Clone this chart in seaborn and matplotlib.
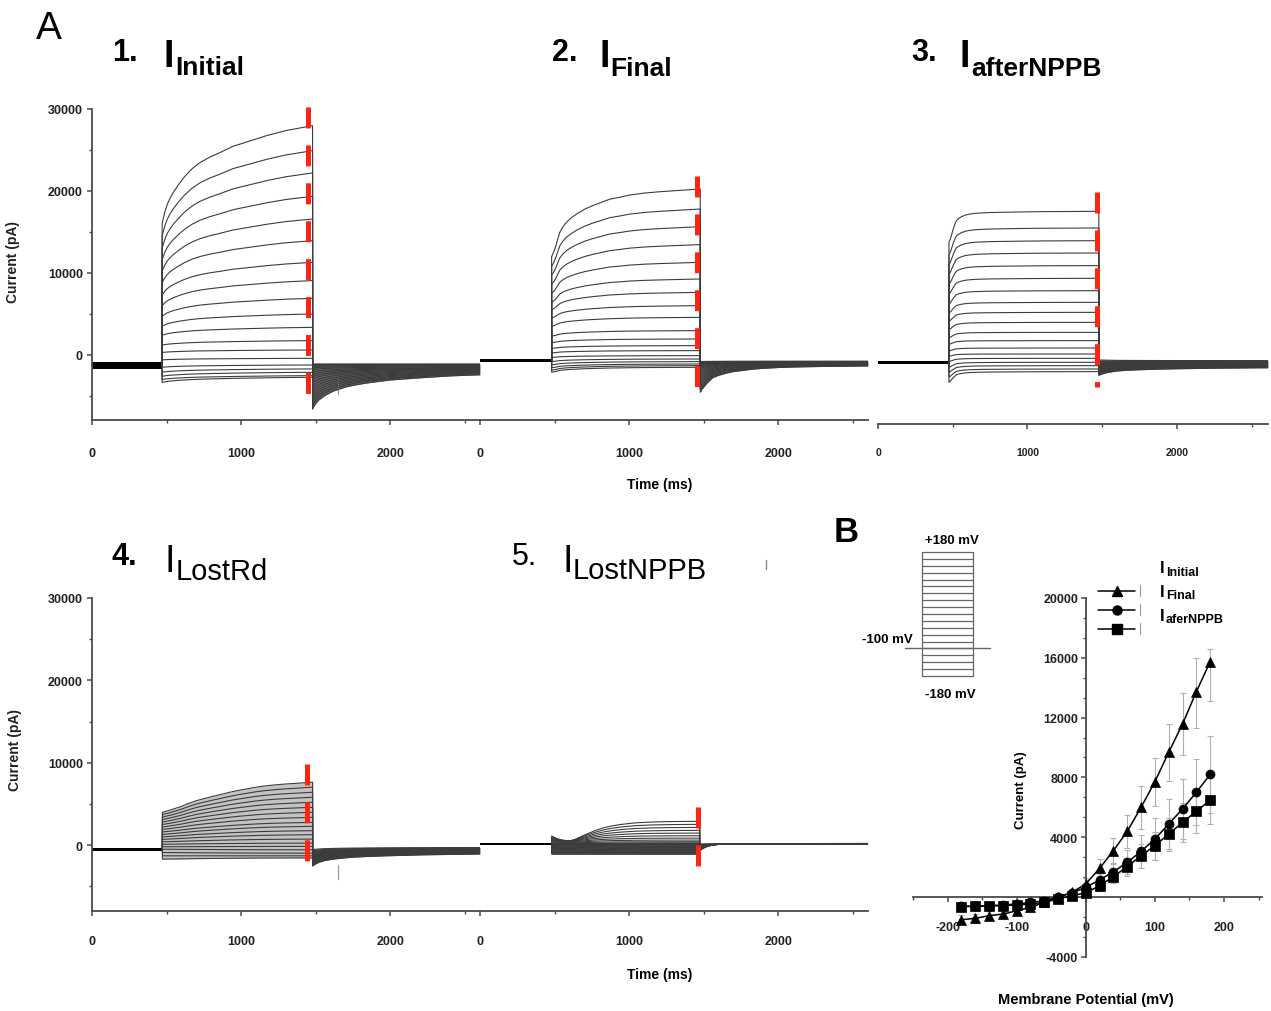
import numpy as np
import pandas as pd
import matplotlib
matplotlib.use("Agg")
import matplotlib.pyplot as plt
import matplotlib.transforms as mtransforms
from matplotlib.ticker import MultipleLocator
import seaborn as sns

# ---------------------------------------------------------------- data
# sweep order for every trace list: +180 mV (top trace) ... -180 mV (bottom)
sweep_mv = [180, 160, 140, 120, 100, 80, 60, 40, 20, 0,
            -20, -40, -60, -80, -100, -120, -140, -160, -180]

# ---- panel 1  I_Initial
p1_pulse = [470, 1478]
p1_hold = [-900, -1650]
p1_onset = [16000, 14500, 13000, 11600, 10200, 8800, 7300, 6000, 4700, 3500,
            2400, 1200, 300, -600, -1500, -2100, -2600, -3000, -3350]
p1_end = [27970, 24920, 22200, 19350, 16590, 13940, 11300, 9070, 6910, 5000,
          3370, 1750, 610, -410, -1220, -1700, -2110, -2520, -2720]
p1_prof_t = [470, 480, 490, 505, 523, 545, 580, 620, 670, 725, 790, 850, 946,
             1050, 1174, 1300, 1478]
p1_prof_f = [0, 0.07, 0.13, 0.2, 0.26, 0.32, 0.4, 0.48, 0.56, 0.625, 0.68, 0.72,
             0.79, 0.84, 0.9, 0.95, 1.0]
p1_tail_peak = [-6600, -6200, -5800, -5400, -5000, -4600, -4200, -3800, -3400, -3000,
                -2700, -2400, -2100, -1800, -1600, -1400, -1250, -1150, -1100]
p1_tail_end = [-2100, -2000, -1950, -1900, -1850, -1800, -1750, -1700, -1650, -1600,
               -1550, -1500, -1450, -1400, -1300, -1250, -1200, -1150, -1100]
p1_tail_t = [1478, 1490, 1500, 1520, 1560, 1617, 1700, 1770, 1845, 1920, 2000,
             2180, 2400, 2600]
p1_tail_d = [1, 0.9, 0.84, 0.75, 0.63, 0.51, 0.4, 0.34, 0.29, 0.25, 0.21,
             0.157, 0.1, 0.07]
p1_marker = [1448, 30250, -5000]
p1_spike = [1648, -2900, -4750]

# ---- panel 2  I_Final
p2_pulse = [480, 1476]
p2_hold = [-550, -850]
p2_onset = [12000, 10800, 9700, 8600, 7500, 6400, 5500, 4500, 3500, 2300,
            1500, 800, 250, -300, -800, -1200, -1550, -1850, -2100]
p2_end = [20240, 17800, 15650, 13460, 11300, 9270, 7640, 6020, 4590, 2970,
          1950, 1140, 530, -80, -490, -810, -1100, -1300, -1500]
p2_prof_t = [480, 490, 500, 510, 520, 535, 555, 580, 610, 647, 700, 750, 810,
             870, 940, 1000, 1100, 1204, 1340, 1476]
p2_prof_f = [0, 0.05, 0.1, 0.17, 0.25, 0.36, 0.44, 0.51, 0.57, 0.63, 0.7, 0.75,
             0.8, 0.85, 0.88, 0.91, 0.94, 0.96, 0.98, 1.0]
p2_tail_peak = [-4550, -4200, -3850, -3500, -3150, -2800, -2500, -2200, -1900, -1650,
                -1450, -1300, -1150, -1050, -950, -900, -850, -820, -800]
p2_tail_end = [-1300, -1270, -1240, -1210, -1180, -1150, -1120, -1090, -1060, -1030,
               -1000, -970, -940, -910, -880, -850, -820, -790, -760]
p2_tail_t = [1476, 1485, 1500, 1520, 1540, 1560, 1600, 1650, 1700, 1760, 1830,
             1900, 2000, 2100, 2300, 2600]
p2_tail_d = [1, 0.9, 0.8, 0.66, 0.55, 0.45, 0.36, 0.28, 0.22, 0.18, 0.13,
             0.1, 0.07, 0.05, 0.03, 0.01]
p2_marker = [1452, 21870, -3900]

# ---- panel 3  I_afterNPPB
p3_pulse = [475, 1478]
p3_hold = [-700, -1100]
p3_onset = [13740, 12200, 11000, 9800, 8600, 7400, 6200, 5100, 4100, 3100,
            2100, 1300, 500, -150, -800, -1500, -2100, -2700, -3330]
p3_end = [17520, 15490, 13940, 12440, 10900, 9350, 7840, 6420, 5200, 3980,
          2760, 1750, 850, 120, -410, -890, -1300, -1710, -2030]
p3_prof_t = [475, 480, 485, 491, 498, 505, 514, 524, 540, 560, 585, 613, 650,
             700, 760, 835, 950, 1100, 1300, 1478]
p3_prof_f = [0, 0.06, 0.12, 0.22, 0.34, 0.45, 0.58, 0.7, 0.77, 0.83, 0.88, 0.91,
             0.935, 0.95, 0.962, 0.97, 0.98, 0.99, 0.995, 1.0]
p3_tail_peak = [-2500, -2400, -2300, -2200, -2100, -2000, -1900, -1800, -1700, -1600,
                -1500, -1400, -1300, -1200, -1100, -1000, -900, -750, -600]
p3_tail_end = [-1500, -1450, -1400, -1350, -1300, -1250, -1200, -1150, -1100, -1050,
               -1000, -950, -900, -850, -800, -780, -760, -730, -700]
p3_tail_t = [1478, 1490, 1520, 1560, 1600, 1670, 1750, 1870, 2000, 2150, 2300, 2610]
p3_tail_d = [1, 0.88, 0.7, 0.56, 0.45, 0.36, 0.3, 0.23, 0.18, 0.14, 0.1, 0.06]
p3_marker = [1467, 19840, -3940]

# ---- panel 4  I_LostRd
p4_pulse = [472, 1478]
p4_hold = [-300, -700]
p4_onset = [3980, 3700, 3400, 3100, 2800, 2500, 2200, 1900, 1600, 1300,
            1000, 700, 400, 100, -200, -500, -900, -1300, -1700]
p4_end = [7640, 7030, 6420, 5810, 5200, 4590, 3980, 3370, 2760, 2280,
          1750, 1260, 730, 240, -160, -570, -980, -1300, -1550]
p4_prof_t = [472, 540, 600, 650, 702, 755, 810, 870, 926, 985, 1040, 1095, 1150,
             1225, 1300, 1390, 1478]
p4_prof_f = [0, 0.1, 0.2, 0.3, 0.39, 0.46, 0.53, 0.6, 0.67, 0.73, 0.78, 0.83,
             0.87, 0.91, 0.94, 0.97, 1.0]
p4_tail_peak = [-2550, -2450, -2350, -2250, -2150, -2050, -1950, -1850, -1750, -1650,
                -1550, -1450, -1350, -1250, -1150, -1000, -850, -700, -550]
p4_tail_end = [-1000, -960, -920, -880, -840, -800, -760, -720, -680, -640,
               -600, -560, -520, -480, -440, -400, -360, -320, -280]
p4_tail_t = [1478, 1490, 1520, 1560, 1618, 1680, 1750, 1850, 1950, 2200, 2600]
p4_tail_d = [1, 0.88, 0.7, 0.56, 0.45, 0.37, 0.3, 0.24, 0.2, 0.12, 0.05]
p4_marker = [1443, 9880, -1910]
p4_spike = [1650, -2400, -4150]

# ---- panel 5  I_LostNPPB
p5_pulse = [480, 1472]
p5_hold = [50, 250]
p5_onset = [1100, 1000, 900, 800, 700, 600, 500, 400, 300, 200,
            100, 0, -150, -300, -450, -600, -750, -900, -1100]
p5_end = [2890, 2520, 2150, 1790, 1460, 1140, 850, 610, 410, 200,
          40, -120, -280, -450, -610, -730, -850, -980, -1100]
p5_prof_t = [480, 510, 540, 570, 602, 630, 660, 713, 770, 825, 880, 940, 1000,
             1048, 1150, 1271, 1372, 1472]
p5_prof_f = [0, -0.15, -0.25, -0.3, -0.32, -0.25, -0.12, 0.13, 0.36, 0.55, 0.68,
             0.78, 0.85, 0.9, 0.95, 0.98, 0.99, 1.0]
p5_tail_peak = [-700, -650, -600, -550, -500, -450, -400, -350, -300, -250,
                -200, -150, -100, -50, 0, 50, 80, 100, 120]
p5_tail_end = [200, 195, 190, 185, 180, 175, 170, 165, 160, 155,
               150, 145, 140, 135, 130, 125, 120, 115, 110]
p5_tail_t = [1472, 1485, 1500, 1520, 1540, 1570, 1600, 1650, 1700, 2000, 2600]
p5_tail_d = [1, 0.78, 0.6, 0.43, 0.3, 0.19, 0.12, 0.08, 0.05, 0.02, 0]
p5_marker = [1463, 4600, -2600]

time_ticks = [0, 1000, 2000]
time_minor = [500, 1500, 2500]
current_ticks = [0, 10000, 20000, 30000]
current_minor = [-5000, 5000, 15000, 25000]

# ---- panel B: I-V relation
iv_mv = [-180, -160, -140, -120, -100, -80, -60, -40, -20, 0,
         20, 40, 60, 80, 100, 120, 140, 160, 180]
iv_initial = [-1520, -1430, -1250, -1140, -920, -690, -360, 0, 310, 870,
              1920, 3100, 4390, 6000, 7710, 9680, 11570, 13730, 15740]
iv_final = [-620, -620, -580, -530, -470, -360, -250, 0, 270, 650,
            1140, 1690, 2320, 3050, 3880, 4880, 5890, 7000, 8200]
iv_after = [-640, -620, -600, -580, -530, -470, -360, -130, 90, 270,
            760, 1360, 2030, 2760, 3430, 4210, 4990, 5730, 6480]
err_initial_up = [300, 300, 300, 300, 300, 300, 250, 200, 250, 400,
                  650, 850, 1100, 1450, 1600, 1900, 2050, 2270, 850]
err_initial_dn = [300, 300, 300, 300, 300, 300, 250, 200, 250, 400,
                  650, 850, 1100, 1450, 1600, 1900, 2050, 2410, 2610]
err_final = [250, 250, 250, 250, 250, 250, 200, 200, 200, 300,
             400, 550, 800, 1100, 1400, 1700, 2000, 2200, 2550]
err_after = [250, 250, 250, 250, 250, 250, 200, 200, 200, 250,
             350, 450, 600, 800, 950, 1100, 1300, 1450, 1600]
iv_xticks = [-200, -100, 0, 100, 200]
iv_yticks = [-4000, 4000, 8000, 12000, 16000, 20000]

# voltage protocol inset
proto_levels = [-180, -160, -140, -120, -100, -80, -60, -40, -20, 0,
                20, 40, 60, 80, 100, 120, 140, 160, 180]
proto_hold = -100
proto_pulse = [480, 1480]

# ---------------------------------------------------------------- style
W, H = 1271, 1012
sns.set_style("ticks")
plt.rcParams["font.family"] = ["Liberation Sans", "DejaVu Sans"]
plt.rcParams["font.weight"] = "bold"
plt.rcParams["lines.scale_dashes"] = False

SPINE = "#4a4a4a"
TXT = "#222222"
RED = "#ff2314"

fig = plt.figure(figsize=(W / 100, H / 100), dpi=100)


def box(x0, y0, x1, y1):
    return [x0 / W, 1 - y1 / H, (x1 - x0) / W, (y1 - y0) / H]


def style_time_axis(ax, ylim, left_axis, pad, lsize=9):
    ax.patch.set_visible(False)
    ax.set_xlim(0, 2600)
    ax.set_ylim(*ylim)
    ax.set_xticks(time_ticks, labels=[str(v) for v in time_ticks])
    ax.set_xticks(time_minor, minor=True)
    for s in ["top", "right"]:
        ax.spines[s].set_visible(False)
    ax.spines["bottom"].set_color(SPINE)
    ax.spines["bottom"].set_linewidth(1.3)
    ax.tick_params(axis="x", which="major", direction="out", length=3.5,
                   width=1.1, color=SPINE, labelcolor=TXT, labelsize=lsize, pad=pad)
    ax.tick_params(axis="x", which="minor", direction="out", length=2.5,
                   width=1.0, color=SPINE)
    if left_axis:
        ax.spines["left"].set_color(SPINE)
        ax.spines["left"].set_linewidth(1.3)
        ax.set_yticks(current_ticks, labels=[str(v) for v in current_ticks])
        ax.set_yticks(current_minor, minor=True)
        ax.tick_params(axis="y", which="major", direction="out", length=3.5,
                       width=1.1, color=SPINE, labelcolor=TXT, labelsize=9, pad=3)
        ax.tick_params(axis="y", which="minor", direction="out", length=2.5,
                       width=1.0, color=SPINE)
        ax.set_ylabel("Current (pA)", fontsize=10, color=TXT, fontweight="bold")
    else:
        ax.spines["left"].set_visible(False)
        ax.set_yticks([])


def draw_traces(ax, pulse, hold, onset, end, prof_t, prof_f,
                tail_peak, tail_end, tail_t, tail_d, marker):
    ax.fill_between([0, pulse[0]], hold[0], hold[1], color="black", lw=0, zorder=2)
    tails = []
    for o, e, tp, te in zip(onset, end, tail_peak, tail_end):
        pv = [o + (e - o) * f for f in prof_f]
        tv = [te + (tp - te) * d for d in tail_d]
        ts = [pulse[0]] + list(prof_t) + list(tail_t)
        vs = [np.mean(hold)] + pv + tv
        ax.plot(ts, vs, color="#3c3c3c", lw=0.8, zorder=3)
        tails.append(tv)
    tails = np.array(tails)
    ax.fill_between(tail_t, tails.min(0), tails.max(0), color="#111111",
                    alpha=0.65, lw=0, zorder=2)
    ax.plot([marker[0], marker[0]], [marker[1], marker[2]], color=RED, lw=3.6,
            ls=(0, (15.1, 12.2)), dash_capstyle="butt", clip_on=False, zorder=6)


ROW1 = (-7930, 30000)
ROW2 = (-8000, 30000)

ax1 = fig.add_axes(box(92, 110, 480, 421))
ax2 = fig.add_axes(box(480, 110, 868, 421))
ax3 = fig.add_axes(box(878, 110, 1268, 421))
ax4 = fig.add_axes(box(92, 599, 480, 912))
ax5 = fig.add_axes(box(480, 599, 868, 912))

style_time_axis(ax1, ROW1, True, 16)
style_time_axis(ax2, ROW1, False, 16)
style_time_axis(ax3, ROW1, False, 13, lsize=7.5)
ax3.set_xlim(0, 2610)
ax3.spines["bottom"].set_position(("outward", 3))
style_time_axis(ax4, ROW2, True, 14)
style_time_axis(ax5, ROW2, False, 14)
ax1.yaxis.set_label_coords(-0.185, 0.51)
ax4.yaxis.set_label_coords(-0.18, 0.517)

draw_traces(ax1, p1_pulse, p1_hold, p1_onset, p1_end, p1_prof_t, p1_prof_f,
            p1_tail_peak, p1_tail_end, p1_tail_t, p1_tail_d, p1_marker)
draw_traces(ax2, p2_pulse, p2_hold, p2_onset, p2_end, p2_prof_t, p2_prof_f,
            p2_tail_peak, p2_tail_end, p2_tail_t, p2_tail_d, p2_marker)
draw_traces(ax3, p3_pulse, p3_hold, p3_onset, p3_end, p3_prof_t, p3_prof_f,
            p3_tail_peak, p3_tail_end, p3_tail_t, p3_tail_d, p3_marker)
draw_traces(ax4, p4_pulse, p4_hold, p4_onset, p4_end, p4_prof_t, p4_prof_f,
            p4_tail_peak, p4_tail_end, p4_tail_t, p4_tail_d, p4_marker)
draw_traces(ax5, p5_pulse, p5_hold, p5_onset, p5_end, p5_prof_t, p5_prof_f,
            p5_tail_peak, p5_tail_end, p5_tail_t, p5_tail_d, p5_marker)
for ax, sp in [(ax1, p1_spike), (ax4, p4_spike)]:
    ax.plot([sp[0], sp[0]], [sp[1], sp[2]], color="#9a9a9a", lw=0.9, zorder=2)

# dense noisy band in panels 4/5 (between recorded sweeps)
p4_lo = [p4_onset[-1] + (p4_end[-1] - p4_onset[-1]) * f for f in p4_prof_f]
p4_hi = [p4_onset[0] + (p4_end[0] - p4_onset[0]) * f for f in p4_prof_f]
ax4.fill_between(p4_prof_t, p4_lo, p4_hi, color="#555555", alpha=0.35, lw=0, zorder=2)
p5_lo = [p5_onset[-1] + (p5_end[-1] - p5_onset[-1]) * f for f in p5_prof_f]
p5_hi = [p5_onset[8] + (p5_end[8] - p5_onset[8]) * f for f in p5_prof_f]
ax5.fill_between(p5_prof_t, p5_lo, p5_hi, color="#111111", alpha=0.75, lw=0, zorder=2)

# ---------------------------------------------------------------- panel B
axB = fig.add_axes(box(913, 599, 1262, 958))
axB.patch.set_visible(False)
iv_df = pd.DataFrame({
    "mV": iv_mv * 3,
    "current": iv_initial + iv_final + iv_after,
    "series": ["Initial"] * len(iv_mv) + ["Final"] * len(iv_mv) + ["afterNPPB"] * len(iv_mv),
})
for y, dn, up in [(iv_initial, err_initial_dn, err_initial_up),
                  (iv_final, err_final, err_final),
                  (iv_after, err_after, err_after)]:
    axB.errorbar(iv_mv, y, yerr=[dn, up], fmt="none", ecolor="#b0b0b0",
                 elinewidth=0.8, capsize=2.2, capthick=0.8, zorder=1)
sns.lineplot(data=iv_df, x="mV", y="current", style="series",
             style_order=["Initial", "Final", "afterNPPB"],
             markers={"Initial": "^", "Final": "o", "afterNPPB": "s"},
             dashes=False, color="black", estimator=None, markersize=6.5,
             markeredgecolor="black", markeredgewidth=0.5, linewidth=1.1,
             legend=False, ax=axB, zorder=3)
axB.set_xlabel("")
axB.set_ylabel("")
axB.set_xlim(-250, 255)
axB.set_ylim(-4013, 20000)
axB.spines["left"].set_position(("data", 0))
axB.spines["bottom"].set_position(("data", 0))
for s in ["top", "right"]:
    axB.spines[s].set_visible(False)
for s in ["left", "bottom"]:
    axB.spines[s].set_color(SPINE)
    axB.spines[s].set_linewidth(1.3)
axB.set_xticks(iv_xticks, labels=[str(v) for v in iv_xticks])
axB.xaxis.set_minor_locator(MultipleLocator(50))
axB.set_yticks(iv_yticks, labels=[str(v) for v in iv_yticks])
axB.yaxis.set_minor_locator(MultipleLocator(4000 / 3))
axB.tick_params(axis="both", which="major", direction="out", length=3.5, width=1.1,
                color=SPINE, labelcolor=TXT, labelsize=9)
axB.tick_params(axis="x", which="major", pad=14)
axB.tick_params(axis="y", which="major", pad=2)
axB.tick_params(axis="both", which="minor", direction="out", length=2.5, width=1.0,
                color=SPINE)

# voltage protocol inset
axP = fig.add_axes(box(922, 553, 973, 677))
axP.set_xlim(*proto_pulse)
axP.set_ylim(min(proto_levels), max(proto_levels))
axP.axis("off")
for v in proto_levels:
    axP.plot(proto_pulse, [v, v], color="#666666", lw=0.9, clip_on=False)
for tt in proto_pulse:
    axP.plot([tt, tt], [min(proto_levels), max(proto_levels)], color="#666666",
             lw=0.9, clip_on=False)
trans = mtransforms.blended_transform_factory(axP.transAxes, axP.transData)
axP.plot([-0.333, 1.333], [proto_hold, proto_hold], color="#666666", lw=1.0,
         transform=trans, clip_on=False)

# ---------------------------------------------------------------- overlay (texts, legend)
ov = fig.add_axes([0, 0, 1, 1])
ov.set_xlim(0, W)
ov.set_ylim(H, 0)
ov.axis("off")
ov.patch.set_visible(False)


def t(x, y, s, size, weight="bold", **kw):
    ov.text(x, y, s, fontsize=size, fontweight=weight, color="black",
            ha=kw.pop("ha", "left"), va=kw.pop("va", "baseline"), **kw)


t(36, 39, "A", 28, "normal")
t(834, 542, "B", 25, "bold")

# titles
t(112, 61, "1.", 22)
t(164, 67, "I", 27)
t(175, 75, "Initial", 19)
t(552, 61, "2.", 22)
t(599, 67, "I", 27)
t(610, 76, "Final", 19)
t(911, 61, "3.", 22)
t(959, 67, "I", 27)
t(971, 76, "afterNPPB", 19)
t(112, 565, "4.", 22)
t(164, 572, "I", 27, "normal")
t(176, 580, "LostRd", 21, "normal")
t(512, 565, "5.", 22, "normal")
t(562, 572, "I", 27, "normal")
t(573, 579, "LostNPPB", 21, "normal")
ov.plot([766, 766], [561, 570], color="#888888", lw=1.0)

# axis titles
t(660, 485, "Time (ms)", 10, ha="center", va="center")
t(660, 975, "Time (ms)", 10, ha="center", va="center")
t(1086, 1000, "Membrane Potential (mV)", 10.5, ha="center", va="center")
t(1021, 790, "Current (pA)", 9.5, ha="center", va="center", rotation=90)

# protocol labels
t(952, 541, "+180 mV", 9.5, ha="center", va="center")
t(887, 640, "-100 mV", 9.5, ha="center", va="center")
t(950, 695, "-180 mV", 9.5, ha="center", va="center")

# legend (entries as in the original figure)
for y, m in [(592, "^"), (611, "o"), (630, "s")]:
    ov.plot([1098, 1135], [y, y], color="black", lw=1.1)
    ov.plot([1117], [y], marker=m, color="black", markersize=6.5)
    ov.plot([1140, 1140], [y - 6, y + 5], color="#999999", lw=0.8)
t(1160, 573, "I", 12)
t(1166, 576, "Initial", 9)
t(1160, 597, "I", 12)
t(1166, 599, "Final", 9)
t(1160, 621, "I", 12)
t(1166, 623, "aferNPPB", 9)

fig.savefig("out.png", dpi=100)
